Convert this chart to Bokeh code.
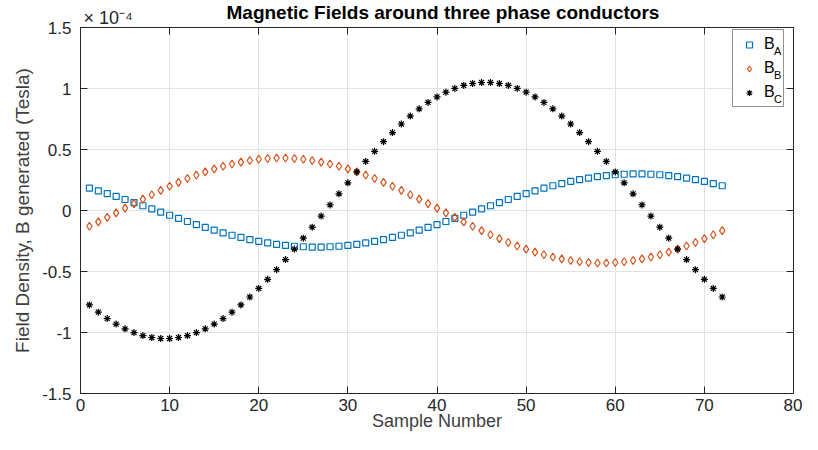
from bokeh.plotting import figure
from bokeh.models import LinearAxis, FixedTicker, Legend, LegendItem, Range1d, Title
from bokeh.embed import file_html
from bokeh.resources import INLINE

# ---------------- data (values in units of 1e-4 Tesla) ----------------
samples = list(range(1, 73))

b_a = [0.183, 0.161, 0.139, 0.115, 0.090, 0.065, 0.039, 0.013, -0.013, -0.039,
       -0.065, -0.090, -0.115, -0.139, -0.161, -0.183, -0.203, -0.221, -0.238, -0.253,
       -0.266, -0.277, -0.286, -0.293, -0.297, -0.300, -0.300, -0.297, -0.293, -0.286,
       -0.277, -0.266, -0.253, -0.238, -0.221, -0.203, -0.183, -0.161, -0.139, -0.115,
       -0.090, -0.065, -0.039, -0.013, 0.013, 0.039, 0.065, 0.090, 0.115, 0.139,
       0.161, 0.183, 0.203, 0.221, 0.238, 0.253, 0.266, 0.277, 0.286, 0.293,
       0.297, 0.300, 0.300, 0.297, 0.293, 0.286, 0.277, 0.266, 0.253, 0.238,
       0.221, 0.203]

b_b = [-0.129, -0.093, -0.056, -0.019, 0.019, 0.056, 0.093, 0.129, 0.165, 0.199,
       0.231, 0.262, 0.291, 0.317, 0.341, 0.363, 0.381, 0.397, 0.410, 0.420,
       0.426, 0.430, 0.430, 0.426, 0.420, 0.410, 0.397, 0.381, 0.363, 0.341,
       0.317, 0.291, 0.262, 0.231, 0.199, 0.165, 0.129, 0.093, 0.056, 0.019,
       -0.019, -0.056, -0.093, -0.129, -0.165, -0.199, -0.231, -0.262, -0.291, -0.317,
       -0.341, -0.363, -0.381, -0.397, -0.410, -0.420, -0.426, -0.430, -0.430, -0.426,
       -0.420, -0.410, -0.397, -0.381, -0.363, -0.341, -0.317, -0.291, -0.262, -0.231,
       -0.199, -0.165]

b_c = [-0.774, -0.833, -0.886, -0.931, -0.970, -1.001, -1.025, -1.041, -1.049, -1.049,
       -1.041, -1.025, -1.001, -0.970, -0.931, -0.886, -0.833, -0.774, -0.709, -0.639,
       -0.564, -0.485, -0.402, -0.316, -0.227, -0.137, -0.046, 0.046, 0.137, 0.227,
       0.316, 0.402, 0.485, 0.564, 0.639, 0.709, 0.774, 0.833, 0.886, 0.931,
       0.970, 1.001, 1.025, 1.041, 1.049, 1.049, 1.041, 1.025, 1.001, 0.970,
       0.931, 0.886, 0.833, 0.774, 0.709, 0.639, 0.564, 0.485, 0.402, 0.316,
       0.227, 0.137, 0.046, -0.046, -0.137, -0.227, -0.316, -0.402, -0.485, -0.564,
       -0.639, -0.709]

x_ticks = [0, 10, 20, 30, 40, 50, 60, 70, 80]
y_ticks = [-1.5, -1, -0.5, 0, 0.5, 1, 1.5]
y_tick_labels = ["-1.5", "-1", "-0.5", "0", "0.5", "1", "1.5"]
legend_main = "B"
legend_subs = ["A", "B", "C"]
title_text = "Magnetic Fields around three phase conductors"
x_label = "Sample Number"
y_label = "Field Density, B generated (Tesla)"
scale_text = "\u00d7 10\u207b\u2074"

# ---------------- styling ----------------
FONT = "Liberation Sans"
AXC = "#262626"
LBLC = "#404040"
GRIDC = "#e2e2e2"
COL_A = "#0072BD"
COL_B = "#D95319"
COL_C = "#000000"

p = figure(width=802, height=434,
           x_range=Range1d(0, 80), y_range=Range1d(-1.5, 1.5),
           output_backend="svg", toolbar_location=None,
           min_border_left=80, min_border_right=9,
           min_border_top=27, min_border_bottom=41,
           background_fill_color="white", border_fill_color="white")
p.title.visible = False
p.outline_line_color = None

ylab_over = {v: s for v, s in zip(y_ticks, y_tick_labels)}


def style_axis(ax, ticks, show_labels):
    ax.ticker = FixedTicker(ticks=ticks)
    ax.axis_line_color = AXC
    ax.axis_line_width = 1
    ax.major_tick_line_color = AXC
    ax.major_tick_in = 7
    ax.major_tick_out = 0
    ax.minor_tick_line_color = None
    ax.major_label_text_font = FONT
    ax.major_label_text_color = AXC
    if show_labels:
        ax.major_label_text_font_size = "17px"
    else:
        # box-edge axis: tick marks only, no tick labels
        ax.major_label_overrides = {t: "" for t in ticks}
        ax.major_label_text_font_size = "1px"
        ax.major_label_standoff = 0


xa = p.xaxis[0]
style_axis(xa, x_ticks, True)
xa.major_label_standoff = 5
xa.axis_label = x_label
xa.axis_label_text_font = FONT
xa.axis_label_text_font_size = "18px"
xa.axis_label_text_font_style = "normal"
xa.axis_label_text_color = LBLC
xa.axis_label_standoff = -3

ya = p.yaxis[0]
style_axis(ya, y_ticks, True)
ya.major_label_overrides = ylab_over
ya.major_label_standoff = 9
ya.axis_label = y_label
ya.axis_label_text_font = FONT
ya.axis_label_text_font_size = "19px"
ya.axis_label_text_font_style = "normal"
ya.axis_label_text_color = LBLC
ya.axis_label_standoff = 6

top_ax = LinearAxis()
style_axis(top_ax, x_ticks, False)
p.add_layout(top_ax, "above")
right_ax = LinearAxis()
style_axis(right_ax, y_ticks, False)
p.add_layout(right_ax, "right")

# exponent (inner) and main title (outer) above the frame
p.add_layout(Title(text=scale_text, align="left", offset=3, standoff=0,
                   text_font=FONT, text_font_size="18px", text_font_style="normal",
                   text_color=AXC), "above")
p.add_layout(Title(text=title_text, align="left", offset=146, standoff=-35,
                   text_font=FONT, text_font_size="19px", text_font_style="bold",
                   text_color="black"), "above")

p.xgrid.ticker = FixedTicker(ticks=x_ticks)
p.ygrid.ticker = FixedTicker(ticks=y_ticks)
p.xgrid.grid_line_color = GRIDC
p.ygrid.grid_line_color = GRIDC

# ---------------- data marks ----------------
ra = p.scatter(samples, b_a, marker="square", size=6, fill_color=None,
               line_color=COL_A, line_width=1.2)
rb = p.scatter(samples, b_b, marker="diamond", size=8, fill_color=None,
               line_color=COL_B, line_width=1.2)
rc = p.scatter(samples, b_c, marker="asterisk", size=7,
               line_color=COL_C, line_width=1.2)
# invisible helper renderer used only to carry the legend subscripts
r_none = p.scatter(x=[], y=[], marker="square", size=1, fill_alpha=0, line_alpha=0)

# ---------------- legend ----------------
legend = Legend(items=[LegendItem(label=legend_main, renderers=[r]) for r in (ra, rb, rc)],
                location=(652, 286), margin=0, padding=4, spacing=4,
                glyph_width=24, glyph_height=15, label_height=20, label_width=15,
                label_standoff=3, label_text_font=FONT, label_text_font_size="16px",
                label_text_color="black", border_line_color=AXC, border_line_width=1,
                background_fill_color="white", background_fill_alpha=1)
p.add_layout(legend)

sub_legend = Legend(items=[LegendItem(label=s, renderers=[r_none]) for s in legend_subs],
                    location=(693, 284), margin=0, padding=0, spacing=4,
                    glyph_width=1, glyph_height=20, label_height=20, label_width=8,
                    label_standoff=0, label_text_font=FONT, label_text_font_size="11px",
                    label_text_color="black", border_line_color=None,
                    background_fill_alpha=0)
p.add_layout(sub_legend)

open("out.html", "w").write(file_html(p, INLINE))
